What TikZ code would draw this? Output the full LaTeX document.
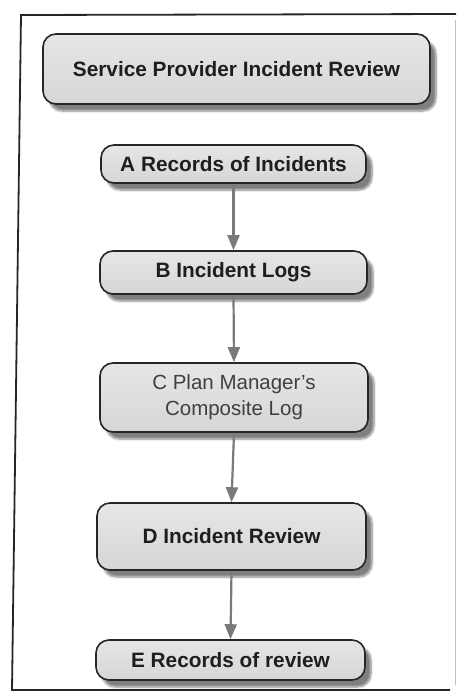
\documentclass[tikz,border=0pt]{standalone}
\usepackage{fontspec}
\setmainfont{Liberation Sans}
\usetikzlibrary{shadows.blur,arrows.meta}
\definecolor{boxline}{HTML}{262626}
\definecolor{boxfill}{HTML}{D6D6D6}
\definecolor{boxtop}{HTML}{E6E6E6}
\definecolor{arrowgrey}{HTML}{7A7A7A}
\definecolor{ink}{HTML}{1E1E1E}
\tikzset{
  stepbox/.style={draw=boxline, line width=1.6pt, rounded corners=13pt,
    top color=boxtop, bottom color=boxfill, text=ink,
    font=\fontsize{20.8}{23}\selectfont\bfseries, align=center,
    inner sep=0pt,
    blur shadow={shadow xshift=6pt, shadow yshift=-7pt, shadow blur steps=6,
      shadow opacity=50}},
  flow/.style={draw=arrowgrey, line width=2.2pt,
    -{Triangle[length=15pt,width=12pt]}, shorten <=1pt},
  frameline/.style={draw=black!85, line width=1.8pt}
}
\begin{document}
\begin{tikzpicture}[x=1pt,y=-1pt]
  \useasboundingbox (0,0) rectangle (457,699);
  % outer frame (top, left, bottom edges)
  \draw[frameline] (456,14) -- (21,15) -- (12,690) -- (450,690);
  \draw[draw=black!25, line width=0.8pt] (455,20) -- (455,685);
  % boxes
  \node[stepbox, minimum width=387pt, minimum height=70pt] (title) at (236.5,69)
    {Service Provider Incident Review};
  \node[stepbox, minimum width=265pt, minimum height=38pt] (a) at (233.5,164)
    {A Records of Incidents};
  \node[stepbox, minimum width=267pt, minimum height=43pt] (b) at (233.5,272.5)
    {B Incident Logs};
  \node[stepbox, minimum width=268pt, minimum height=69pt,
    font=\fontsize{20.5}{26}\selectfont, text=black!75] (c) at (234,397.5)
    {C Plan Manager's\\Composite Log};
  \node[stepbox, minimum width=269pt, minimum height=67pt] (d) at (231.5,536.5)
    {D Incident Review};
  \node[stepbox, minimum width=269pt, minimum height=40pt] (e) at (230.5,660)
    {E Records of review};
  % connectors
  \draw[flow] (a.south) -- (b.north);
  \draw[flow] (b.south) -- (c.north);
  \draw[flow] (c.south) -- (d.north);
  \draw[flow] (d.south) -- (e.north);
\end{tikzpicture}
\end{document}
